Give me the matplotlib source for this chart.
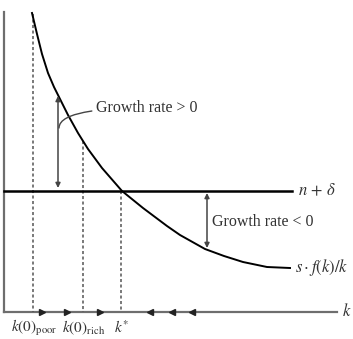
import matplotlib as mpl
mpl.use('Agg')
import matplotlib.pyplot as plt

# curve s*f(k)/k (x to the right, y downwards, in pixels)
curve_k = [32, 37, 42, 48, 54, 60, 68, 78, 88, 102, 122, 143, 167, 180, 205, 224, 243, 267, 290]
curve_y = [13, 34, 54, 73, 87, 99, 115, 133, 149, 168, 191, 208, 226, 235, 249, 256, 262, 267, 268]

n_delta_y = 191
k_marks = [33, 83, 121]
k_tops = [14, 141, 191]
k_labels = [r'$k(0)_{\rm poor}$', r'$k(0)_{\rm rich}$', r'$k^{*}$']
right_arrows = [42, 67, 100]
left_arrows = [150, 172, 192]

plt.rcParams['font.family'] = 'Liberation Serif'
plt.rcParams['mathtext.fontset'] = 'stix'

fig = plt.figure(figsize=(3.53, 3.39), dpi=100)
ax = fig.add_axes([0, 0, 1, 1])
ax.set_xlim(0, 353)
ax.set_ylim(339, 0)
ax.axis('off')

axis_col = '#6e6e6e'
x0, y0 = 4, 312
ax.plot([x0, x0], [12, y0], color=axis_col, lw=1.6)
ax.plot([x0, 337], [y0, y0], color=axis_col, lw=1.6)
ax.text(342, y0, r'$k$', fontsize=12, ha='left', va='center', color='#333333')

# dashed guides and labels
for xm, yt, lab in zip(k_marks, k_tops, k_labels):
    ax.plot([xm, xm], [yt, y0], color='#555555', lw=1.1, ls=(0, (2, 1.6)))
    ax.text(xm + 1, 328, lab, fontsize=11, ha='center', va='center', color='#333333')

# direction arrows along k
ax.plot(right_arrows, [y0] * 3, ls='none', marker='>', ms=5, color='#222222')
ax.plot(left_arrows, [y0] * 3, ls='none', marker='<', ms=5, color='#222222')

# n + delta line
ax.plot([x0, 292], [n_delta_y, n_delta_y], color='black', lw=1.8)
ax.text(298, n_delta_y, r'$n\,+\,\delta$', fontsize=12, ha='left', va='center', color='#333333')

# the curve
ax.plot(curve_k, curve_y, color='black', lw=1.4)
ax.text(295, 268, r'$s\cdot f(k)/k$', fontsize=12, ha='left', va='center', color='#333333')

# growth rate arrows
ax.annotate('', xy=(58, 96), xytext=(58, 188),
            arrowprops=dict(arrowstyle='<|-|>', color='#444444', lw=1.1,
                            mutation_scale=7, shrinkA=0, shrinkB=0))
ax.annotate('', xy=(207, 193), xytext=(207, 248),
            arrowprops=dict(arrowstyle='<|-|>', color='#444444', lw=1.1,
                            mutation_scale=7, shrinkA=0, shrinkB=0))

ax.annotate('Growth rate > 0', xy=(59, 128), xytext=(96, 108),
            fontsize=11.5, ha='left', va='center', color='#333333',
            arrowprops=dict(arrowstyle='-', color='#444444', lw=1.0,
                            connectionstyle='angle3,angleA=0,angleB=90',
                            shrinkA=1, shrinkB=0))
ax.text(212, 222, 'Growth rate < 0', fontsize=11.5, ha='left', va='center', color='#333333')

fig.savefig('out.png', dpi=100)
